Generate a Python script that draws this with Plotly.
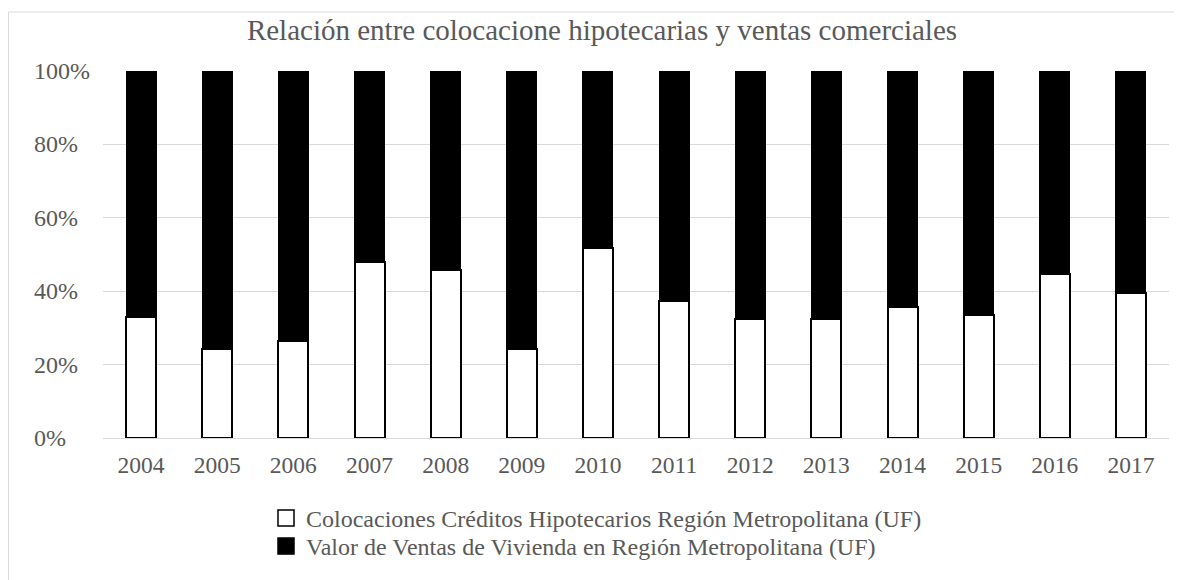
import plotly.graph_objects as go

years = ["2004", "2005", "2006", "2007", "2008", "2009", "2010",
         "2011", "2012", "2013", "2014", "2015", "2016", "2017"]
colocaciones_pct = [32.9, 24.2, 26.4, 48.0, 45.8, 24.2, 51.7,
                    37.4, 32.3, 32.5, 35.8, 33.5, 44.7, 39.4]
ventas_pct = [round(100 - v, 1) for v in colocaciones_pct]
y_ticks = [0, 20, 40, 60, 80, 100]
y_tick_labels = ["0%", "20%", "40%", "60%", "80%", "100%"]
series_names = ["Colocaciones Créditos Hipotecarios Región Metropolitana (UF)",
                "Valor de Ventas de Vivienda en Región Metropolitana (UF)"]

FONT = "Liberation Serif"
GRAY = "#595959"

# page body has an 8px margin, so the figure is sized to fit the window
W, H = 1174, 572
L, R, T, B = 95, 13, 63, 142
plot_w = W - L - R
plot_h = H - T - B

fig = go.Figure()
fig.add_trace(go.Bar(
    x=years, y=colocaciones_pct, name=series_names[0], showlegend=False,
    marker=dict(color="white", line=dict(color="black", width=2)),
))
fig.add_trace(go.Bar(
    x=years, y=ventas_pct, name=series_names[1], showlegend=False,
    marker=dict(color="black", line=dict(color="black", width=1)),
))
# legend entries with larger square swatches
fig.add_trace(go.Scatter(
    x=[None], y=[None], mode="markers", name=series_names[0], legend="legend",
    marker=dict(symbol="square", size=16, color="white",
                line=dict(color="black", width=1.5)),
))
fig.add_trace(go.Scatter(
    x=[None], y=[None], mode="markers", name=series_names[1], legend="legend2",
    marker=dict(symbol="square", size=16, color="black",
                line=dict(color="black", width=1.5)),
))

annotations = []
for v, lab in zip(y_ticks, y_tick_labels):
    annotations.append(dict(
        x=(24 - L) / plot_w, xref="paper", y=v, yref="y",
        text=lab, showarrow=False, xanchor="left", yanchor="middle",
        font=dict(family=FONT, size=24, color=GRAY),
    ))

legend_common = dict(orientation="v", x=(258 - L) / plot_w, xanchor="left",
                     yanchor="top", itemsizing="trace",
                     font=dict(family=FONT, size=24, color=GRAY),
                     itemwidth=30, bgcolor="rgba(0,0,0,0)")

fig.update_layout(
    width=W, height=H,
    margin=dict(l=L, r=R, t=T, b=B, autoexpand=False),
    paper_bgcolor="white", plot_bgcolor="white",
    barmode="stack", bargap=0.606,
    title=dict(text="Relación entre colocacione hipotecarias y ventas comerciales",
               x=594 / W, xanchor="center", y=1 - 22 / H, yanchor="middle",
               font=dict(family=FONT, size=29, color=GRAY)),
    xaxis=dict(showgrid=False, showline=False, ticks="", ticklabelstandoff=10,
               tickfont=dict(family=FONT, size=23.5, color=GRAY)),
    yaxis=dict(range=[0, 100], tickvals=y_ticks, showticklabels=False,
               showgrid=True, gridcolor="#d9d9d9", gridwidth=1,
               zeroline=True, zerolinecolor="#d9d9d9", zerolinewidth=1,
               showline=False, ticks=""),
    legend=dict(legend_common, y=-(488 - (T + plot_h)) / plot_h),
    legend2=dict(legend_common, y=-(516 - (T + plot_h)) / plot_h),
    annotations=annotations,
    shapes=[dict(type="rect", xref="paper", yref="paper",
                 x0=(0.5 - L) / plot_w, x1=(W + 20 - L) / plot_w,
                 y0=-(H + 20 - T - plot_h) / plot_h, y1=(T + plot_h - 4) / plot_h,
                 line=dict(color="#d9d9d9", width=1), layer="below")],
    showlegend=True,
)

fig.write_html("out.html")
